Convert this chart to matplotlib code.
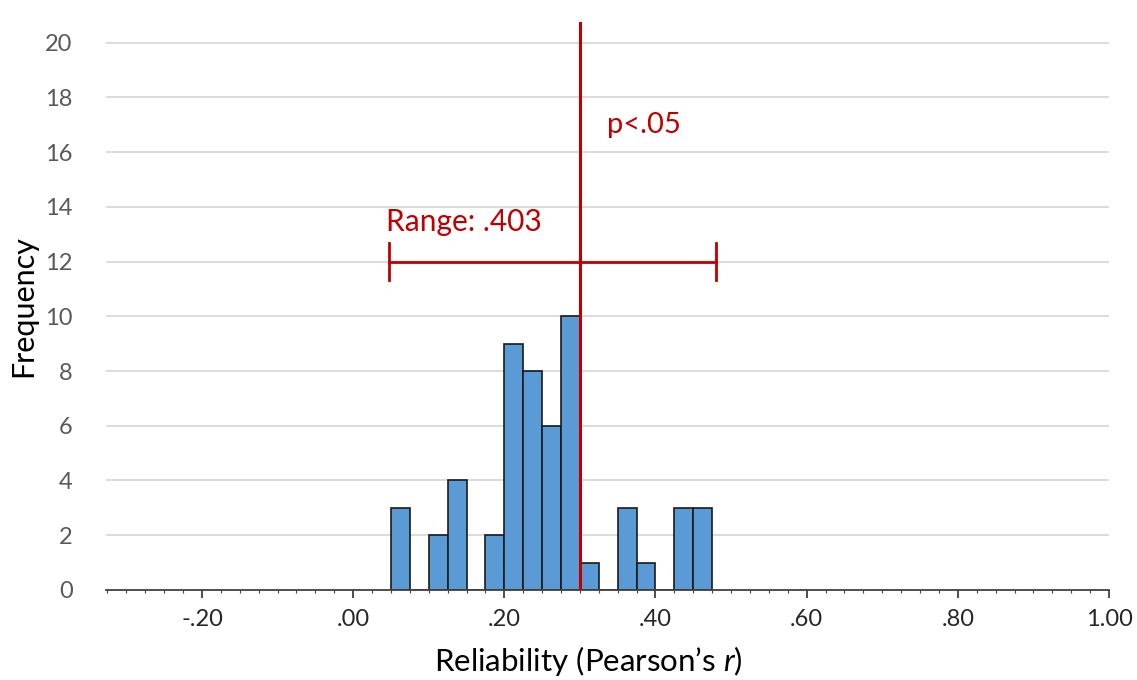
import numpy as np
import matplotlib
matplotlib.use("Agg")
import matplotlib.pyplot as plt
from matplotlib.ticker import MultipleLocator, FuncFormatter

plt.rcParams['font.family'] = ['Lato', 'DejaVu Sans']
plt.rcParams['mathtext.fontset'] = 'custom'
plt.rcParams['mathtext.rm'] = 'Lato'
plt.rcParams['mathtext.it'] = 'Lato:italic'

# histogram data (bin left edges, width .025)
bin_left = np.arange(0.05, 0.475, 0.025)
counts = [3, 0, 2, 4, 0, 2, 9, 8, 6, 10, 1, 0, 3, 1, 0, 3, 3]
bin_width = 0.025

# annotations
cutoff = 0.30
range_lo, range_hi, range_y = 0.048, 0.48, 12
x_ticks = [-0.2, 0.0, 0.2, 0.4, 0.6, 0.8, 1.0]
y_ticks = list(range(0, 21, 2))

red = "#C00000"

fig = plt.figure(figsize=(11.37, 6.8), dpi=100)
ax = fig.add_axes([0.0932, 0.1324, 0.8822, 0.8352])

ax.set_xlim(-0.327, 1.0)
ax.set_ylim(0, 20.75)

for y in y_ticks[1:]:
    ax.axhline(y, color="#d9d9d9", lw=1.3, zorder=0)

ax.bar(bin_left, counts, width=bin_width, align="edge", color="#5B9BD5",
       edgecolor="#1a1a1a", linewidth=1.2, zorder=2)

ax.axvline(cutoff, color=red, lw=2.2, zorder=3)
ax.plot([range_lo, range_hi], [range_y, range_y], color=red, lw=2, zorder=3)
for xe in (range_lo, range_hi):
    ax.plot([xe, xe], [range_y - 0.67, range_y + 0.67], color=red, lw=2, zorder=3)

ax.text(0.044, 13.1, "Range: .403", color=red, fontsize=21.5, ha="left", va="baseline")
ax.text(0.336, 17.0, "p<.05", color=red, fontsize=21, ha="left", va="center")

for s in ("top", "right", "left"):
    ax.spines[s].set_visible(False)
ax.spines["bottom"].set_color("#404040")
ax.spines["bottom"].set_linewidth(1.3)

ax.set_xticks(x_ticks)
ax.xaxis.set_minor_locator(MultipleLocator(0.025))
ax.xaxis.set_major_formatter(FuncFormatter(
    lambda v, p: f"{v:.2f}" if abs(v) >= 1 else f"{v:.2f}".replace("0.", ".")))
ax.set_yticks(y_ticks)

ax.tick_params(axis="x", which="major", length=6, width=1.3, color="#404040",
               labelsize=17, labelcolor="#262626", pad=8)
ax.tick_params(axis="x", which="minor", length=2, width=0.8, color="#404040")
ax.tick_params(axis="y", length=0, labelsize=17, labelcolor="#595959", pad=24)

ax.set_xlabel("Reliability (Pearson\u2019s $\\mathit{r}$)", fontsize=22.5)
ax.set_ylabel("Frequency", fontsize=22)
ax.xaxis.set_label_coords(0.481, -0.095)
ax.yaxis.set_label_coords(-0.069, 0.5)

fig.savefig("out.png", dpi=100)
